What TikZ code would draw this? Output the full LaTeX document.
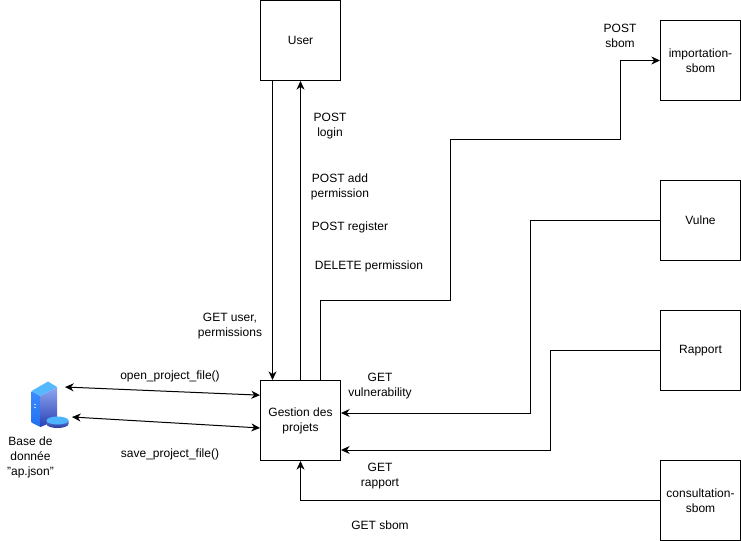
\documentclass[tikz,border=0pt]{standalone}
\usepackage{fontspec}
\setmainfont{Liberation Sans}
\usetikzlibrary{arrows.meta}
\definecolor{srvA}{HTML}{3D8BFF}
\definecolor{srvB}{HTML}{1F6FF0}
\definecolor{srvC}{HTML}{8FA8F0}
\definecolor{srvD}{HTML}{2A3FB5}
\definecolor{srvT}{HTML}{55B8FF}
\definecolor{dskT}{HTML}{4FB4FF}
\definecolor{dskA}{HTML}{5C7AD8}
\definecolor{dskB}{HTML}{26379E}
\begin{document}
\begin{tikzpicture}[x=0.75pt,y=-0.75pt,
  box/.style={draw=black,line width=0.75pt,fill=white,minimum width=60pt,minimum height=60pt,inner sep=0pt,align=center,font=\fontsize{9}{11.25}\selectfont},
  lab/.style={align=center,inner sep=0pt,font=\fontsize{9}{11.25}\selectfont},
  conn/.style={draw=black,line width=0.75pt,-{Stealth[length=6.5pt,width=6pt]}},
  both/.style={draw=black,line width=0.75pt,{Stealth[length=6.5pt,width=6pt]}-{Stealth[length=6.5pt,width=6pt]}}]
\useasboundingbox (0,0) rectangle (741,541);
\node[box] (user) at (300.5,40.5) {User};
\node[box] (gest) at (300.5,420.5) {Gestion des\\projets};
\node[box] (imp) at (700.5,60.5) {importation-\\sbom};
\node[box] (vul) at (700.5,220.5) {Vulne};
\node[box] (rap) at (700.5,350.5) {Rapport};
\node[box] (con) at (700.5,500.5) {consultation-\\sbom};
% server icon
\shade[top color=srvA,bottom color=srvB] (31.5,391) -- (40.5,396) -- (40.5,427) -- (31.5,422.5) -- cycle;
\shade[top color=srvC,bottom color=srvD] (40.5,396) -- (57,387) -- (57,420) -- (40.5,427) -- cycle;
\fill[srvT] (31.5,391) -- (48,381.5) -- (57,387) -- (40.5,396) -- cycle;
\draw[white,line width=0.4pt] (34,404) -- (36,405) (34,407) -- (36,408);
\shade[top color=dskA,bottom color=dskB] (46.5,420.5) -- (46.5,424) arc[start angle=180,end angle=0,x radius=11,y radius=4] -- (68.5,420.5) -- cycle;
\fill[dskT] (57.5,420.5) ellipse[x radius=11,y radius=4];
\coordinate (dbA) at (65,387);
\coordinate (dbB) at (72,417);
\node[lab] (dbl) at (30.5,457.5) {Base de\\donnée\\"ap.json"};
% connectors
\draw[both] (dbA) -- ([yshift=19pt]gest.west);
\draw[both] (dbB) -- ([yshift=-5.6pt]gest.west);
\draw[conn] ([xshift=-21pt]user.south) -- ([xshift=-21pt]gest.north);
\draw[conn] (gest.north) -- (user.south);
\draw[conn] ([xshift=15pt]gest.north) |- (450,300) |- (620,140) |- (imp.west);
\draw[conn] (vul.west) -| (530,413) -- (gest.east |- 0,413);
\draw[conn] (rap.west) -| (550,450) -- (gest.east |- 0,450);
\draw[conn] (con.west) -| (gest.south);
% labels
\node[lab] (l1) at (330,126.5) {POST\\login};
\node[lab] (l2) at (340,186.5) {POST add\\permission};
\node[lab] (l3) at (350,227) {POST register};
\node[lab] (l4) at (369,266) {DELETE permission};
\node[lab] (l5) at (230,326.5) {GET user,\\permissions};
\node[lab] (l6) at (170,376) {open\_project\_file()};
\node[lab] (l7) at (170,454.5) {save\_project\_file()};
\node[lab] (l8) at (380,386.5) {GET\\vulnerability};
\node[lab] (l9) at (380,476.5) {GET\\rapport};
\node[lab] (l10) at (380,525) {GET sbom};
\node[lab] (l11) at (620,35.5) {POST\\sbom};
\end{tikzpicture}
\end{document}
